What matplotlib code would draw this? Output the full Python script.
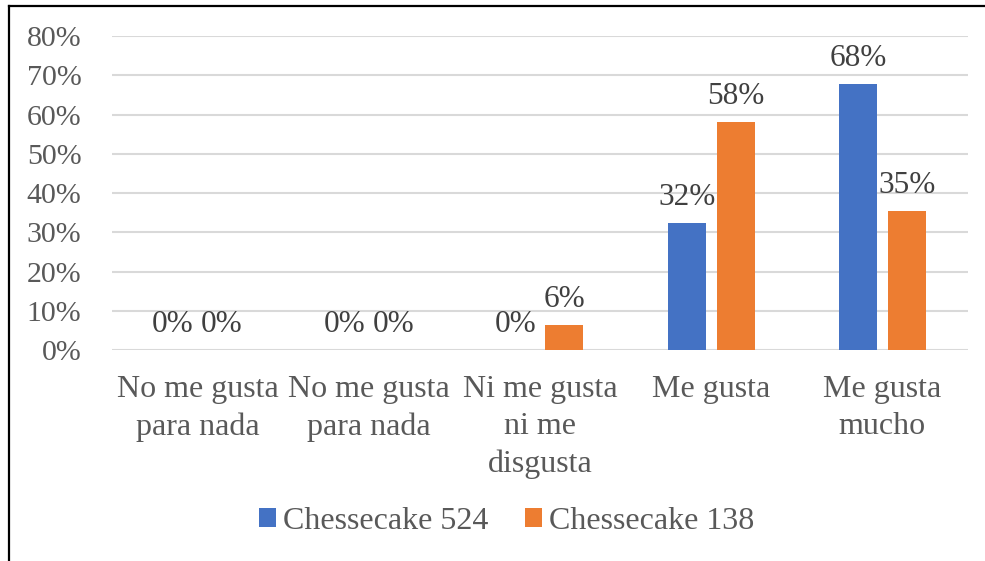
import matplotlib as mpl
mpl.use('Agg')
import numpy as np
import matplotlib.pyplot as plt
from matplotlib.lines import Line2D

plt.rcParams['font.family'] = ['Liberation Serif', 'DejaVu Serif']

categories = ['No me gusta\npara nada', 'No me gusta\npara nada', 'Ni me gusta\nni me\ndisgusta',
              'Me gusta', 'Me gusta\nmucho']
series_names = ['Chessecake 524', 'Chessecake 138']
vals_524 = [0.0, 0.0, 0.0, 0.323, 0.677]
vals_138 = [0.0, 0.0, 0.0645, 0.581, 0.354]
yticks = [0.0, 0.1, 0.2, 0.3, 0.4, 0.5, 0.6, 0.7, 0.8]

BLUE = '#4472C4'
ORANGE = '#ED7D31'
TXT = '#595959'
GRID = '#D9D9D9'

fig = plt.figure(figsize=(9.85, 5.61), dpi=100)
ax = fig.add_axes([0.1137, 0.3761, 0.8690, 0.5597])

x = np.arange(len(categories))
w = 0.222
off = 0.143
b1 = ax.bar(x - off, vals_524, w, color=BLUE, label=series_names[0], zorder=3)
b2 = ax.bar(x + off, vals_138, w, color=ORANGE, label=series_names[1], zorder=3)

for bars, vals in ((b1, vals_524), (b2, vals_138)):
    for r, v in zip(bars, vals):
        ax.annotate(f'{v*100:.0f}%', (r.get_x() + r.get_width() / 2, v),
                    xytext=(0, 8), textcoords='offset points',
                    ha='center', va='bottom', fontsize=22.5, color='#404040')

ax.set_xlim(-0.5, len(categories) - 0.5)
ax.set_ylim(0, 0.8)
ax.set_yticks(yticks)
ax.set_yticklabels([f'{t*100:.0f}%' for t in yticks])
ax.set_xticks(x)
ax.set_xticklabels(categories, linespacing=1.38)
ax.tick_params(axis='y', length=0, pad=22, labelsize=21.5, labelcolor=TXT)
ax.tick_params(axis='x', length=0, pad=18, labelsize=23, labelcolor=TXT)
ax.grid(axis='y', color=GRID, lw=1.5, zorder=0)
for s in ax.spines.values():
    s.set_visible(False)

fig.legend(handles=[b1, b2], labels=series_names, loc='center', bbox_to_anchor=(0.514, 0.071),
           ncol=2, frameon=False, fontsize=23, labelcolor=TXT, handlelength=0.55,
           handleheight=0.55, handletextpad=0.2, columnspacing=1.15)

# outer border (left and top)
fig.add_artist(Line2D([0.009, 0.009], [0.0, 0.989], transform=fig.transFigure, color='black', lw=1.6))
fig.add_artist(Line2D([0.009, 1.0], [0.989, 0.989], transform=fig.transFigure, color='black', lw=1.6))

fig.savefig('out.png', dpi=100)
